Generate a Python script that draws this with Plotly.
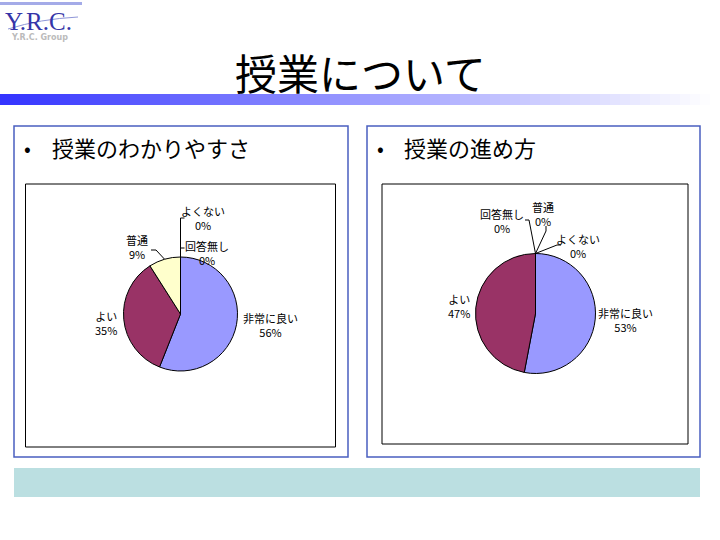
import math
import plotly.graph_objects as go

# ---- data ----
categories = ["非常に良い", "よい", "普通", "よくない", "回答無し"]
clarity_values = [56, 35, 9, 0, 0]          # 授業のわかりやすさ
pace_values = [53, 47, 0, 0, 0]             # 授業の進め方
slice_colors = ["#9999FF", "#993366", "#FFFFCC", "#CCFFFF", "#660066"]

slide_title = "授業について"
chart_titles = ["授業のわかりやすさ", "授業の進め方"]

W, H = 720, 540
JP = "Noto Sans CJK JP"

fig = go.Figure()

# overlay pixel axes for decorations
fig.update_layout(
    width=W, height=H, margin=dict(l=0, r=0, t=0, b=0),
    paper_bgcolor="white", plot_bgcolor="white", showlegend=False,
    xaxis=dict(range=[0, W], visible=False, domain=[0, 1], fixedrange=True),
    yaxis=dict(range=[H, 0], visible=False, domain=[0, 1], fixedrange=True),
)
fig.add_trace(go.Scatter(x=[0], y=[0], mode="markers", marker=dict(opacity=0), hoverinfo="skip"))

shapes = []
annotations = []

def rect(x0, y0, x1, y1, fill=None, line=None, lw=0):
    shapes.append(dict(type="rect", xref="x", yref="y", x0=x0, y0=y0, x1=x1, y1=y1,
                       fillcolor=fill if fill else "rgba(0,0,0,0)",
                       line=dict(color=line if line else "rgba(0,0,0,0)", width=lw),
                       layer="below"))

def text(x, y, s, size=11, color="black", family=JP, xanchor="center", yanchor="middle", align="center"):
    annotations.append(dict(x=x, y=y, xref="x", yref="y", text=s, showarrow=False,
                            font=dict(size=size, color=color, family=family),
                            xanchor=xanchor, yanchor=yanchor, align=align))

def polyline(pts, color="black", width=1):
    path = "M " + " L ".join(f"{px},{py}" for px, py in pts)
    shapes.append(dict(type="path", xref="x", yref="y", path=path,
                       line=dict(color=color, width=width), layer="above"))

# ---- logo ----
rect(0, 2, 82, 5, fill="#A4ABE8")
text(38, 21, "Y.R.C.", size=25, color="#3535A8", family="Liberation Serif")
shapes.append(dict(type="path", xref="x", yref="y", path="M 8,29 Q 40,19 78,17",
                   line=dict(color="#8F96D8", width=1)))
text(39, 37.5, "<b>Y.R.C. Group</b>", size=8, color="#BBBBBB", family="DejaVu Sans")

# ---- title ----
text(360, 71, slide_title, size=42, family=JP)

# ---- gradient bar ----
n = 72
for i in range(n):
    x0 = i * W / n
    t = min(1.0, (x0 + W / n / 2) / 710)
    r = int(51 + (255 - 51) * t)
    g = int(51 + (255 - 51) * t)
    rect(x0, 94, x0 + W / n + 0.5, 105, fill=f"rgb({r},{g},255)")

# ---- panels ----
panels = [(14, 126, 348, 457), (367, 126, 700, 457)]
inner = [(25.5, 184, 335.5, 447), (382, 184, 688, 444)]
for (x0, y0, x1, y1) in panels:
    rect(x0, y0, x1, y1, line="#4A5FC0", lw=1.5)
for (x0, y0, x1, y1) in inner:
    rect(x0, y0, x1, y1, fill="white", line="black", lw=1)

text(27, 147, "•", size=20, family=JP)
text(50, 147, chart_titles[0], size=22, family=JP, xanchor="left")
text(380, 147, "•", size=20, family=JP)
text(402, 147, chart_titles[1], size=22, family=JP, xanchor="left")

# ---- bottom strip ----
rect(14, 468, 700, 497, fill="#BBDFE1")

# ---- pies ----
pies = [
    dict(values=clarity_values, cx=180.5, cy=314, r=57),
    dict(values=pace_values, cx=535.5, cy=313.5, r=60),
]
for p in pies:
    fig.add_trace(go.Pie(
        labels=categories, values=p["values"], sort=False, direction="clockwise",
        rotation=0, textinfo="none", hoverinfo="label+percent",
        marker=dict(colors=slice_colors, line=dict(color="black", width=1)),
        domain=dict(x=[(p["cx"] - p["r"]) / W, (p["cx"] + p["r"]) / W],
                    y=[1 - (p["cy"] + p["r"]) / H, 1 - (p["cy"] - p["r"]) / H]),
    ))

def pct_labels(values):
    tot = sum(values)
    return [f"{c}<br>{round(v / tot * 100)}%" for c, v in zip(categories, values)]

def edge_point(p, idx):
    vals = p["values"]
    tot = sum(vals)
    start = sum(vals[:idx]) / tot
    mid = start + vals[idx] / tot / 2
    ang = 2 * math.pi * mid
    return (p["cx"] + p["r"] * math.sin(ang), p["cy"] - p["r"] * math.cos(ang))

# left chart labels
L1 = pct_labels(clarity_values)
p = pies[0]
text(270, 325, L1[0])
text(106, 323, L1[1])
text(137, 247, L1[2])
text(203, 218, L1[3])
text(207, 253, L1[4])
ex, ey = edge_point(p, 2)
polyline([(ex, ey), (156, 250), (151, 250)])
tx, ty = edge_point(p, 3)
polyline([(tx, ty), (tx, 218), (tx + 4, 218)])
tx, ty = edge_point(p, 4)
polyline([(tx, ty), (tx, 248), (tx + 4, 248)])

# right chart labels
L2 = pct_labels(pace_values)
p = pies[1]
text(625, 320, L2[0])
text(459, 306, L2[1])
text(543, 214, L2[2])
text(578, 246, L2[3])
text(502, 221, L2[4])
tx, ty = edge_point(p, 2)
polyline([(tx, ty), (546, 231), (546, 226)])
tx, ty = edge_point(p, 3)
polyline([(tx, ty), (557, 245), (561, 245)])
tx, ty = edge_point(p, 4)
polyline([(tx, ty), (529, 220), (525, 220)])

fig.update_layout(shapes=shapes, annotations=annotations)
fig.write_html("out.html")
